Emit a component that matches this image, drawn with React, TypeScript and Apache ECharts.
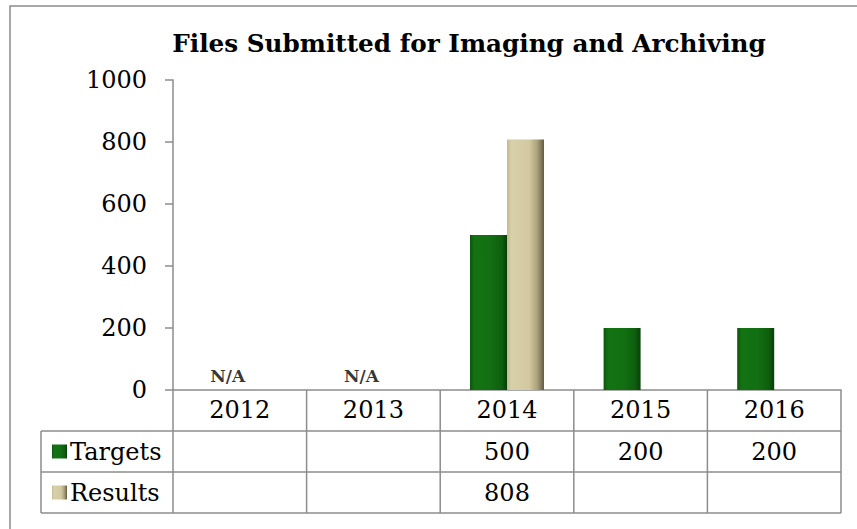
import React, { useEffect, useRef } from "react";
import * as echarts from "echarts";

const titleText = "Files Submitted for Imaging and Archiving";
const categories = ["2012", "2013", "2014", "2015", "2016"];
const seriesNames = ["Targets", "Results"];
const targets: (number | null)[] = [null, null, 500, 200, 200];
const results: (number | null)[] = [null, null, 808, null, null];
const naCategories = ["2012", "2013"];
const naText = "N/A";
const yMin = 0;
const yMax = 1000;
const yInterval = 200;

const FONT = "DejaVu Serif";
const LINE = "#8c8c8c";
const FS = 24;

const greenGrad = () =>
  new echarts.graphic.LinearGradient(0, 0, 1, 0, [
    { offset: 0, color: "#0b560b" },
    { offset: 0.12, color: "#137313" },
    { offset: 0.55, color: "#126f12" },
    { offset: 0.85, color: "#0e5f0e" },
    { offset: 1, color: "#083f08" },
  ]);
const tanGrad = () =>
  new echarts.graphic.LinearGradient(0, 0, 1, 0, [
    { offset: 0, color: "#c4ba90" },
    { offset: 0.12, color: "#d8d0aa" },
    { offset: 0.6, color: "#d2c9a1" },
    { offset: 0.82, color: "#aaa07a" },
    { offset: 1, color: "#625c42" },
  ]);

export default function App() {
  const ref = useRef<HTMLDivElement>(null);
  useEffect(() => {
    if (!ref.current) return;
    const chart = echarts.init(ref.current, undefined, { renderer: "svg" });
    const option: any = {
      animation: false,
      backgroundColor: "#ffffff",
      title: {
        text: titleText,
        left: 469,
        top: 31,
        padding: 0,
        textAlign: "center",
        textStyle: { fontFamily: FONT, fontWeight: "bold", fontSize: 24.7, color: "#000" },
      },
      grid: { left: 173, right: 16, top: 80, bottom: 139, containLabel: false },
      xAxis: {
        type: "category",
        data: categories,
        axisLine: { lineStyle: { color: LINE, width: 1.5 } },
        axisTick: { show: false },
        axisLabel: {
          margin: 20,
          verticalAlign: "middle",
          fontFamily: FONT,
          fontSize: FS,
          color: "#000",
        },
      },
      yAxis: {
        type: "value",
        min: yMin,
        max: yMax,
        interval: yInterval,
        axisLine: { show: true, lineStyle: { color: LINE, width: 1.5 } },
        axisTick: { show: true, length: 8, lineStyle: { color: LINE, width: 1.5 } },
        splitLine: { show: false },
        axisLabel: {
          margin: 26,
          fontFamily: FONT,
          fontSize: FS,
          color: "#000",
          formatter: (v: number) => String(v),
        },
      },
      series: [
        {
          name: seriesNames[0],
          type: "bar",
          data: targets,
          barWidth: 37,
          barGap: "0%",
          itemStyle: { color: greenGrad() },
        },
        {
          name: seriesNames[1],
          type: "bar",
          data: results,
          barWidth: 37,
          barGap: "0%",
          itemStyle: { color: tanGrad() },
        },
        {
          type: "scatter",
          data: naCategories.map((c) => [c, 0]),
          symbolSize: 0,
          silent: true,
          label: {
            show: true,
            formatter: naText,
            position: "top",
            distance: 6,
            offset: [-12, 0],
            fontFamily: FONT,
            fontWeight: "bold",
            fontSize: 17,
            color: "#000",
          },
        },
      ],
    };
    chart.setOption(option);

    const c0 = chart.convertToPixel({ xAxisIndex: 0 }, categories[0]) as number;
    const c1 = chart.convertToPixel({ xAxisIndex: 0 }, categories[1]) as number;
    const bw = c1 - c0;
    const x0 = c0 - bw / 2;
    const xEnd = x0 + bw * categories.length;
    const y0 = chart.convertToPixel({ yAxisIndex: 0 }, 0) as number;
    const rowH = 41;
    const yH = y0 + rowH;
    const yR2 = y0 + 2 * rowH;
    const yB = y0 + 3 * rowH;
    const tblLeft = 41;
    const ls = { stroke: LINE, lineWidth: 1.5 };
    const g: any[] = [];
    g.push({
      type: "rect",
      shape: { x: 10, y: 6, width: 900, height: 600 },
      style: { fill: "none", stroke: LINE, lineWidth: 1.5 },
      silent: true,
    });
    [yH, yR2, yB].forEach((y) =>
      g.push({ type: "line", shape: { x1: tblLeft, y1: y, x2: xEnd, y2: y }, style: ls, silent: true })
    );
    g.push({ type: "line", shape: { x1: tblLeft, y1: yH, x2: tblLeft, y2: yB }, style: ls, silent: true });
    for (let i = 0; i <= categories.length; i++) {
      const x = x0 + i * bw;
      g.push({ type: "line", shape: { x1: x, y1: y0, x2: x, y2: yB }, style: ls, silent: true });
    }
    const rows = [
      { name: seriesNames[0], data: targets, fill: greenGrad() },
      { name: seriesNames[1], data: results, fill: tanGrad() },
    ];
    rows.forEach((r, ri) => {
      const cy = yH + rowH * ri + rowH / 2;
      g.push({
        type: "rect",
        shape: { x: 52, y: cy - 7, width: 15, height: 14 },
        style: { fill: r.fill },
        silent: true,
      });
      g.push({
        type: "text",
        x: 70,
        y: cy,
        style: {
          text: r.name,
          fontFamily: FONT,
          fontSize: FS,
          fill: "#000",
          align: "left",
          verticalAlign: "middle",
        },
        silent: true,
      });
      r.data.forEach((v, i) => {
        if (v == null) return;
        g.push({
          type: "text",
          x: x0 + bw * i + bw / 2,
          y: cy,
          style: {
            text: String(v),
            fontFamily: FONT,
            fontSize: FS,
            fill: "#000",
            align: "center",
            verticalAlign: "middle",
          },
          silent: true,
        });
      });
    });
    chart.setOption({ graphic: g });
    return () => chart.dispose();
  }, []);
  return (
    <div
      ref={ref}
      style={{ position: "fixed", left: 0, top: 0, width: 857, height: 529 }}
    />
  );
}
